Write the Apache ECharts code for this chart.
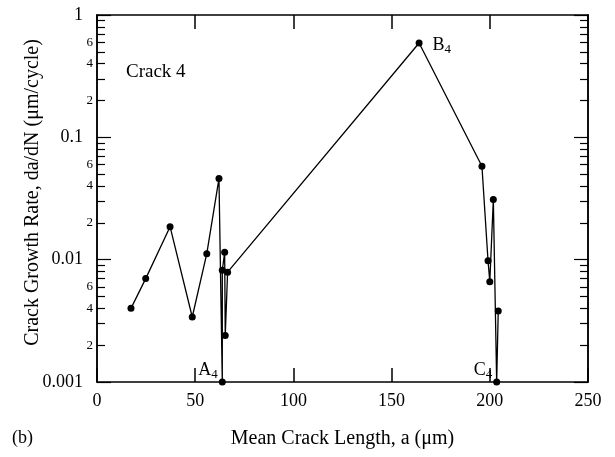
<!DOCTYPE html>
<html>
<head>
<meta charset="utf-8">
<script src="https://cdn.jsdelivr.net/npm/echarts@6/dist/echarts.min.js"></script>
<style>
html, body { margin: 0; padding: 0; background: #fff; }
#main { width: 615px; height: 457px; }
</style>
</head>
<body>
<div id="main"></div>
<script>
// crack 4 : mean crack length (um) vs growth rate (um/cycle)
var crackLength = [17.3, 24.8, 37.2, 48.5, 55.9, 62.1, 63.8, 63.8, 65.0, 65.3, 66.5, 164.0, 196.0, 199.1, 200.0, 201.8, 203.5, 204.3];
var growthRate = [0.0040, 0.0070, 0.0186, 0.0034, 0.0112, 0.046, 0.001, 0.0082, 0.0115, 0.0024, 0.0079, 0.59, 0.058, 0.0098, 0.0066, 0.031, 0.001, 0.0038];
var pointNames = {6: 'A', 11: 'B', 16: 'C'};

var majorTicks = [0.001, 0.01, 0.1, 1];
var minorTicks = [];
var minorLabels = [0.002, 0.004, 0.006, 0.02, 0.04, 0.06, 0.2, 0.4, 0.6];
[0.001, 0.01, 0.1].forEach(function (d) {
  for (var k = 2; k <= 9; k++) minorTicks.push(+(d * k).toPrecision(3));
});

var font = 'Liberation Serif';
var black = '#000';

var pts = [];
for (var i = 0; i < crackLength.length; i++) {
  var item = { value: [crackLength[i], growthRate[i]] };
  if (pointNames[i]) {
    var right = pointNames[i] === 'B';
    item.label = {
      show: true,
      formatter: '{a|' + pointNames[i] + '}{s|4}',
      position: right ? 'right' : 'left',
      distance: right ? 10 : 1,
      offset: right ? [0, 2] : [0, -12],
      rich: {
        a: { fontFamily: font, fontSize: 18, color: black },
        s: { fontFamily: font, fontSize: 13, color: black, padding: [9, 0, 0, 0] }
      }
    };
  }
  pts.push(item);
}

function xAx(pos) {
  return {
    type: 'value', position: pos, min: 0, max: 250, interval: 50,
    splitLine: { show: false },
    axisLine: { show: true, onZero: false, lineStyle: { color: black, width: 1.5 } },
    axisTick: { show: true, inside: true, length: 14, lineStyle: { color: black, width: 1.5 } },
    axisLabel: { show: pos === 'bottom', fontFamily: font, fontSize: 18, color: black, margin: 10 },
    name: pos === 'bottom' ? 'Mean Crack Length, a (\u03bcm)' : '',
    nameLocation: 'middle', nameGap: 47,
    nameTextStyle: { fontFamily: font, fontSize: 20, color: black }
  };
}

function yAx(pos, ticks, len, labels, extra) {
  var o = {
    type: 'log', logBase: 10, position: pos, min: 0.001, max: 1,
    splitLine: { show: false },
    axisLine: { show: true, lineStyle: { color: black, width: 1.5 } },
    axisTick: { show: true, inside: true, length: len, customValues: ticks, lineStyle: { color: black, width: 1.2 } },
    axisLabel: { show: !!labels, customValues: labels || [], fontFamily: font, color: black }
  };
  return Object.assign(o, extra || {});
}

var chart = echarts.init(document.getElementById('main'));
chart.setOption({
  backgroundColor: '#fff',
  animation: false,
  grid: { left: 97, right: 27, top: 15, bottom: 75, containLabel: false },
  title: {
    text: 'Crack 4', left: 126, top: 63, padding: 0,
    textStyle: { fontFamily: font, fontSize: 19, fontWeight: 'normal', color: black }
  },
  graphic: [{
    type: 'text', left: 12, top: 429,
    style: { text: '(b)', font: '18px "Liberation Serif"', fill: black }
  }],
  xAxis: [xAx('bottom'), xAx('top')],
  yAxis: [
    yAx('left', majorTicks, 14, majorTicks, {
      name: 'Crack Growth Rate, da/dN (\u03bcm/cycle)',
      nameLocation: 'middle', nameGap: 54, nameRotate: 90, nameMoveOverlap: false,
      nameTextStyle: { fontFamily: font, fontSize: 20, color: black, padding: [0, 0, 0, 12] }
    }),
    yAx('left', minorTicks, 8, minorLabels),
    yAx('right', majorTicks, 14, null),
    yAx('right', minorTicks, 8, null)
  ],
  series: [{
    type: 'line',
    xAxisIndex: 0, yAxisIndex: 0,
    data: pts,
    symbol: 'circle', symbolSize: 7,
    itemStyle: { color: black },
    lineStyle: { color: black, width: 1.3 },
    z: 5
  }]
});

// label sizes/margins differ between major and minor axes
chart.setOption({
  yAxis: [
    { axisLabel: { fontSize: 18, margin: 14 } },
    { axisLabel: { fontSize: 13, margin: 4, formatter: function (v) { return String(Math.round(v / Math.pow(10, Math.floor(Math.log10(v) + 1e-9)))); } } },
    {}, {}
  ]
});
</script>
</body>
</html>
